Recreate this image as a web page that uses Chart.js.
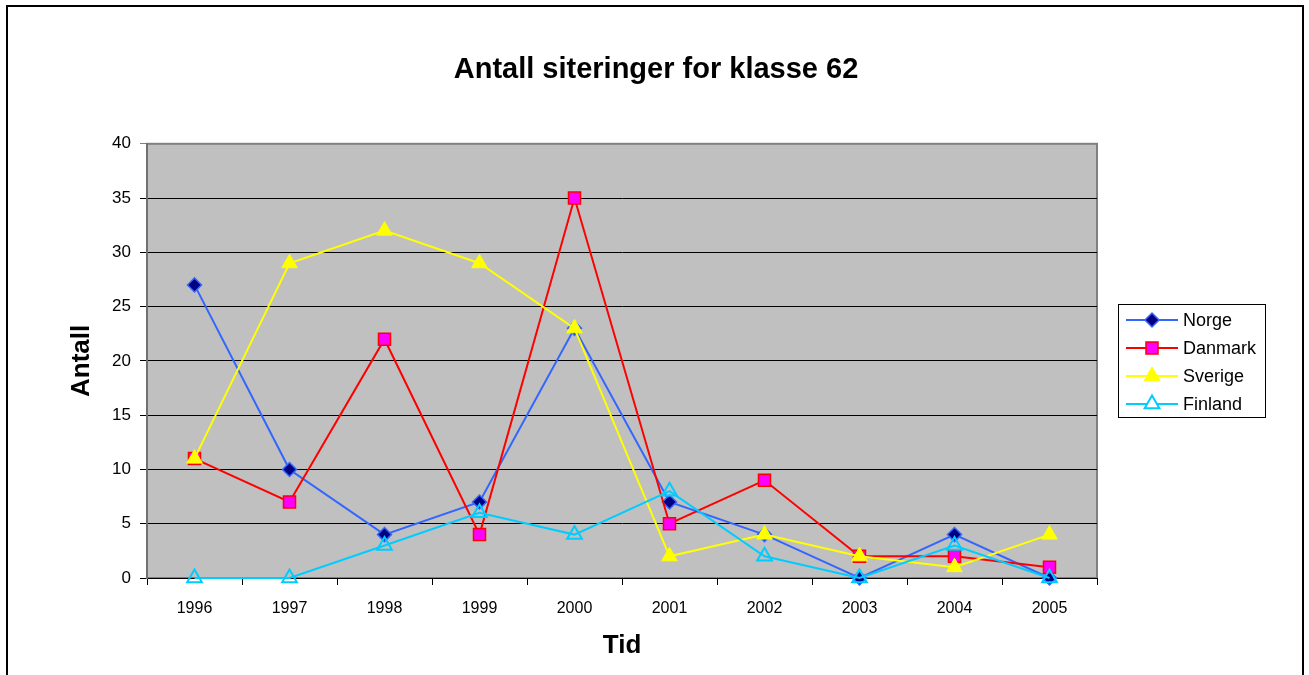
<!DOCTYPE html>
<html>
<head>
<meta charset="utf-8">
<title>Antall siteringer for klasse 62</title>
<script src="https://cdn.jsdelivr.net/npm/chart.js"></script>
<style>
  html, body { margin: 0; padding: 0; background: #fff; }
  #wrap { width: 1309px; height: 675px; }
</style>
</head>
<body>
<div id="wrap"><canvas id="chart" width="1309" height="675"></canvas></div>
<script>
const years = ["1996", "1997", "1998", "1999", "2000", "2001", "2002", "2003", "2004", "2005"];
const norge = [27, 10, 4, 7, 23, 7, 4, 0, 4, 0];
const danmark = [11, 7, 22, 4, 35, 5, 9, 2, 2, 1];
const sverige = [11, 29, 32, 29, 23, 2, 4, 2, 1, 4];
const finland = [0, 0, 3, 6, 4, 8, 2, 0, 3, 0];
const yTicks = [0, 5, 10, 15, 20, 25, 30, 35, 40];

const FONT = "'Liberation Sans', Arial, sans-serif";

// grey plot area + outer frame
const backdrop = {
  id: "backdrop",
  beforeDraw(chart) {
    const { ctx, chartArea: a } = chart;
    ctx.save();
    ctx.fillStyle = "#fff";
    ctx.fillRect(0, 0, chart.width, chart.height);
    ctx.strokeStyle = "#000";
    ctx.lineWidth = 2;
    ctx.strokeRect(7, 6, chart.width - 13, chart.height + 20);
    ctx.fillStyle = "#C0C0C0";
    ctx.fillRect(a.left, a.top, a.right - a.left, a.bottom - a.top);
    ctx.strokeStyle = "#808080";
    ctx.lineWidth = 2;
    ctx.strokeRect(a.left, a.top, a.right - a.left, a.bottom - a.top);
    ctx.restore();
  }
};

function marker(ctx, ds, x, y, legend) {
  ctx.save();
  ctx.fillStyle = legend && ds.pointBackgroundColor === "rgba(0,0,0,0)" ? "#fff" : ds.pointBackgroundColor;
  ctx.strokeStyle = ds.pointBorderColor;
  ctx.lineWidth = ds.pointBorderWidth;
  if (Chart.helpers && Chart.helpers.drawPoint) {
    Chart.helpers.drawPoint(ctx, {
      pointStyle: ds.pointStyle, radius: ds.pointRadius,
      borderWidth: ds.pointBorderWidth, rotation: 0
    }, x, y);
  }
  ctx.restore();
}

// Excel style legend: line + marker, framed box
const boxLegend = {
  id: "boxLegend",
  afterDraw(chart) {
    const { ctx, chartArea: a } = chart;
    const sets = chart.data.datasets;
    const rowH = 28, w = 147, h = 113;
    const x0 = a.right + 21;
    const y0 = Math.round((a.top + a.bottom) / 2 - h / 2);
    ctx.save();
    ctx.fillStyle = "#fff";
    ctx.fillRect(x0, y0, w, h);
    ctx.strokeStyle = "#000";
    ctx.lineWidth = 1;
    ctx.strokeRect(x0 + 0.5, y0 + 0.5, w, h);
    sets.forEach((ds, i) => {
      const y = y0 + 16 + i * rowH;
      ctx.strokeStyle = ds.borderColor;
      ctx.lineWidth = ds.borderWidth;
      ctx.beginPath();
      ctx.moveTo(x0 + 8, y);
      ctx.lineTo(x0 + 60, y);
      ctx.stroke();
      marker(ctx, ds, x0 + 34, y, true);
      ctx.fillStyle = "#000";
      ctx.font = "18px " + FONT;
      ctx.textBaseline = "middle";
      ctx.fillText(ds.label, x0 + 65, y + 1);
    });
    ctx.restore();
  }
};

new Chart(document.getElementById("chart"), {
  type: "line",
  data: {
    labels: years,
    datasets: [
      {
        label: "Norge", data: norge, order: 3,
        borderColor: "#3366FF", borderWidth: 2, tension: 0,
        pointStyle: "rectRot", pointRadius: 7,
        pointBackgroundColor: "#000080", pointBorderColor: "#3366FF", pointBorderWidth: 1.5
      },
      {
        label: "Danmark", data: danmark, order: 2,
        borderColor: "#FF0000", borderWidth: 2, tension: 0,
        pointStyle: "rect", pointRadius: 8.5,
        pointBackgroundColor: "#FF00FF", pointBorderColor: "#FF0000", pointBorderWidth: 1.5
      },
      {
        label: "Sverige", data: sverige, order: 1,
        borderColor: "#FFFF00", borderWidth: 2, tension: 0,
        pointStyle: "triangle", pointRadius: 9,
        pointBackgroundColor: "#FFFF00", pointBorderColor: "#FFFF00", pointBorderWidth: 1
      },
      {
        label: "Finland", data: finland, order: 0,
        borderColor: "#00CCFF", borderWidth: 2, tension: 0,
        pointStyle: "triangle", pointRadius: 8.5,
        pointBackgroundColor: "rgba(0,0,0,0)", pointBorderColor: "#00CCFF", pointBorderWidth: 2
      }
    ]
  },
  options: {
    responsive: false,
    animation: false,
    clip: false,
    layout: { padding: { left: 8, right: 5, top: 0, bottom: 0 } },
    plugins: {
      legend: { display: false },
      tooltip: { enabled: false },
      title: {
        display: true,
        text: "Antall siteringer for klasse 62",
        color: "#000",
        font: { family: FONT, size: 29, weight: "bold", lineHeight: 1.2 },
        padding: { top: 53, bottom: 56 }
      }
    },
    scales: {
      x: {
        offset: true,
        grid: { offset: true, drawOnChartArea: false, drawTicks: true, tickLength: 7, color: "#000" },
        border: { color: "#000", width: 1 },
        ticks: { color: "#000", font: { family: FONT, size: 16 }, padding: 14, maxRotation: 0 },
        title: {
          display: true, text: "Tid", color: "#000",
          font: { family: FONT, size: 26, weight: "bold", lineHeight: 1.2 },
          padding: { top: 0, bottom: 14 }
        },
        afterFit(s) { s.height = 97; }
      },
      y: {
        min: 0, max: 40,
        afterBuildTicks(s) { s.ticks = yTicks.map(v => ({ value: v })); },
        grid: {
          color: c => (c.tick && c.tick.value === 40 ? "#808080" : "#000"),
          lineWidth: 1, drawTicks: true, tickLength: 7
        },
        border: { color: "#707070", width: 2 },
        ticks: { color: "#000", font: { family: FONT, size: 17 }, padding: 9 },
        title: {
          display: true, text: "Antall", color: "#000",
          font: { family: FONT, size: 26, weight: "bold", lineHeight: 1.2 },
          padding: { top: 58, bottom: 0 }
        },
        afterFit(s) { s.width = 139; }
      },
      legendSpace: {
        position: "right",
        display: true,
        grid: { display: false },
        border: { display: false },
        ticks: { display: false },
        afterFit(s) { s.width = 207; }
      }
    }
  },
  plugins: [backdrop, boxLegend]
});
</script>
</body>
</html>
